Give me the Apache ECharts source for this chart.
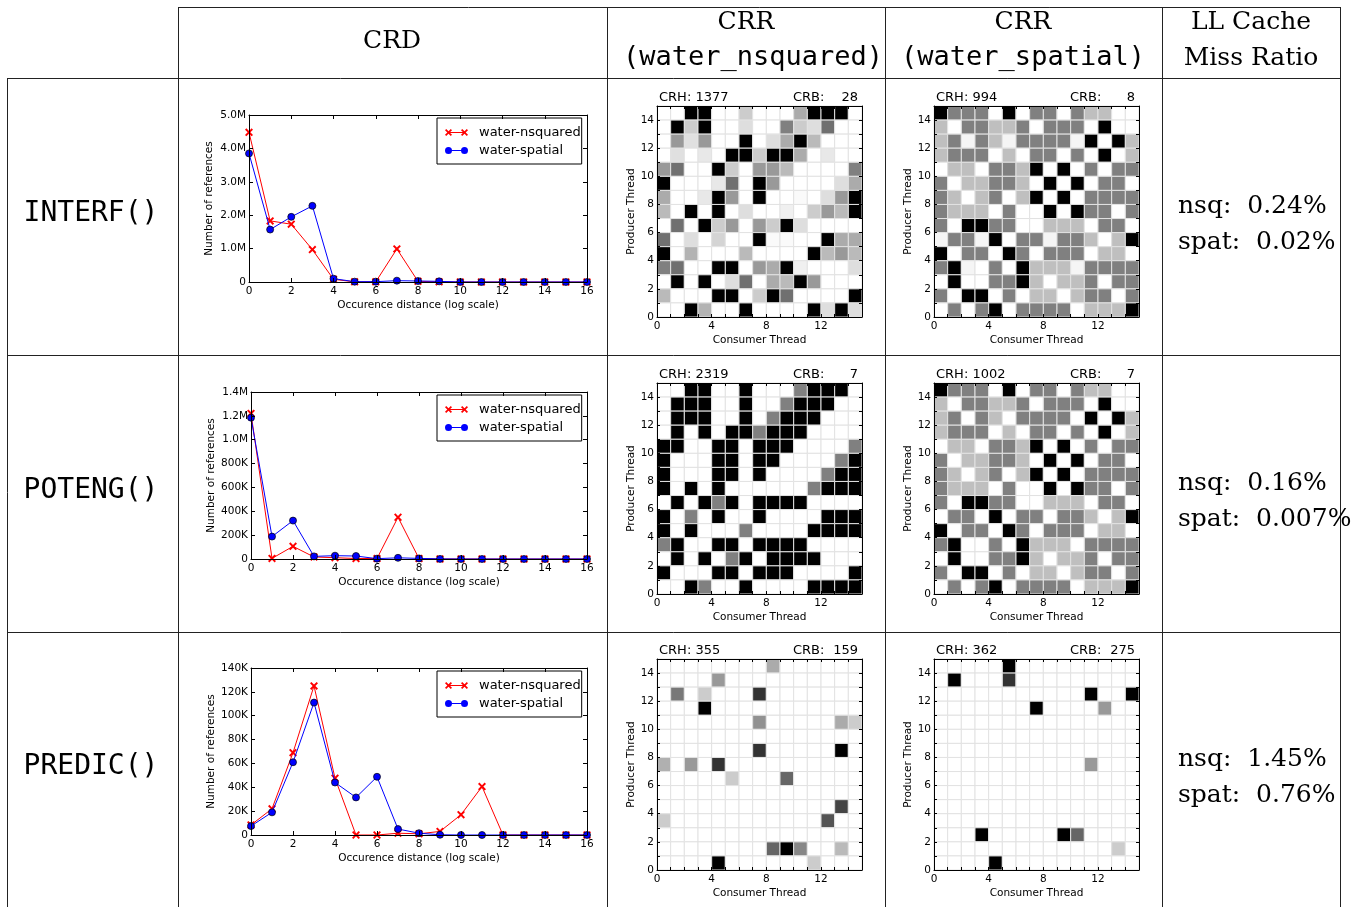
<!DOCTYPE html>
<html><head><meta charset="utf-8">
<script src="https://cdn.jsdelivr.net/npm/echarts@6/dist/echarts.min.js"></script>
<style>html,body{margin:0;padding:0;background:#fff}#c{width:1362px;height:907px}</style>
</head><body><div id="c"></div>
<script>
// ---------------- DATA ----------------
const funcNames = ['INTERF()', 'POTENG()', 'PREDIC()'];
const seriesNames = ['water-nsquared', 'water-spatial'];
const crdX = [0,1,2,3,4,5,6,7,8,9,10,11,12,13,14,15,16];
const interfNsq  = [4480000,1830000,1730000,970000,80000,5000,5000,990000,20000,5000,0,0,0,0,0,0,0];
const interfSpat = [3850000,1570000,1950000,2280000,100000,10000,10000,40000,30000,20000,0,0,0,0,0,0,0];
const potengNsq  = [1220000,5000,106000,17000,11000,4000,4000,350000,4000,0,0,0,0,0,0,0,0];
const potengSpat = [1185000,188000,322000,22000,28000,25000,3000,10000,5000,1000,0,0,0,0,0,0,0];
const predicNsq  = [8400,22000,69000,125000,47600,0,0,1500,1000,3000,17000,40600,0,0,0,0,0];
const predicSpat = [7500,19000,61000,111000,44000,31500,48800,5000,1500,200,0,0,0,0,0,0,0];
const crdYMax  = [5000000, 1400000, 140000];
const crdYStep = [1000000, 200000, 20000];
const crdXMax = 16, crdXStep = 2;
const threadMax = 15;

const crhValues = [[1377, 994], [2319, 1002], [355, 362]];
const crbValues = [[28, 8], [7, 7], [159, 275]];
const missNsq  = ['0.24%', '0.16%', '1.45%'];
const missSpat = ['0.02%', '0.007%', '0.76%'];

// CRR matrices: darkness 0..100, rows listed from producer 14 (top) down to 0
const crrInterfNsq = [
 [0,0,100,100,0,0,20,0,0,0,33,100,100,100,0],
 [0,100,20,100,0,0,13,0,0,50,20,13,56,0,0],
 [0,40,12,40,0,0,100,0,13,33,100,27,0,0,0],
 [0,12,0,9,0,100,100,20,100,100,33,0,9,0,0],
 [40,56,0,0,100,20,0,40,40,27,0,0,0,0,50],
 [100,0,0,0,9,56,0,100,40,0,0,0,0,13,33],
 [33,0,0,9,100,40,0,100,0,0,2,0,13,40,100],
 [27,0,100,0,100,0,13,0,0,6,0,20,40,27,100],
 [0,56,0,100,20,40,0,40,20,100,13,0,0,0,0],
 [56,0,13,0,17,0,0,100,2,2,0,0,100,33,33],
 [100,0,30,0,0,0,27,0,0,0,0,100,27,40,27],
 [50,56,0,0,100,100,0,40,33,100,6,0,0,0,13],
 [0,100,0,100,0,13,56,0,33,27,100,40,0,0,0],
 [27,0,0,0,100,100,0,20,100,56,0,0,0,0,100],
 [0,0,100,30,0,0,100,0,0,0,0,100,13,100,13]
];
const crrInterfSpat = [
 [100,50,50,50,0,100,0,50,50,0,50,25,25,0,0],
 [25,0,50,50,25,25,50,0,50,50,50,0,100,0,0],
 [25,50,4,50,25,4,50,50,50,50,4,100,0,100,25],
 [25,50,50,50,0,25,0,50,50,0,50,0,100,0,25],
 [0,25,25,0,50,50,25,100,0,100,0,50,0,50,50],
 [50,0,25,25,50,50,25,0,100,0,100,0,50,50,0],
 [50,25,0,25,50,0,25,100,0,100,0,50,50,50,50],
 [50,25,25,25,0,50,0,0,100,0,100,50,50,0,50],
 [50,0,100,100,50,50,0,0,25,25,25,0,50,50,0],
 [4,50,50,4,100,0,50,50,4,50,50,25,0,25,100],
 [100,0,50,50,0,100,50,0,50,50,50,0,25,25,0],
 [50,100,4,0,50,0,100,25,25,25,4,50,50,50,50],
 [0,100,0,0,50,50,100,25,0,25,25,50,0,50,50],
 [50,0,100,100,0,50,0,25,25,0,25,50,50,0,50],
 [0,50,0,50,100,0,50,50,50,50,0,25,25,25,100]
];
const crrPotengNsq = [
 [0,0,100,100,0,0,100,0,0,0,50,100,100,100,0],
 [0,100,100,100,0,0,100,0,0,50,100,100,100,0,0],
 [0,100,100,100,0,0,100,0,50,100,100,100,0,0,0],
 [0,100,0,100,0,100,100,50,100,100,100,0,0,0,0],
 [100,100,0,0,100,100,0,100,100,100,0,0,0,0,50],
 [100,0,0,0,100,100,0,100,100,0,0,0,0,50,100],
 [100,0,0,0,100,100,0,100,0,0,0,0,50,100,100],
 [100,0,100,0,100,0,0,0,0,0,0,50,100,100,100],
 [0,100,0,100,50,100,0,100,100,100,100,0,0,0,0],
 [100,0,50,0,100,0,0,100,0,0,0,0,100,100,100],
 [100,0,100,0,0,0,50,0,0,0,0,100,100,100,100],
 [50,100,0,0,100,100,0,100,100,100,100,0,0,0,0],
 [0,100,0,100,0,50,100,0,100,100,100,100,0,0,0],
 [100,0,0,0,100,100,0,100,100,100,0,0,0,0,100],
 [0,0,100,50,0,0,100,0,0,0,0,100,100,100,100]
];
const crrPotengSpat = [
 [100,50,50,50,0,100,0,50,50,0,50,25,25,0,0],
 [25,0,50,50,25,25,50,0,50,50,50,0,100,0,0],
 [25,50,0,50,25,0,50,50,50,50,0,100,0,100,25],
 [25,50,50,50,0,25,0,50,50,0,50,0,100,0,25],
 [0,25,25,0,50,50,25,100,0,100,0,50,0,50,50],
 [50,0,25,25,50,50,25,0,100,0,100,0,50,50,0],
 [50,25,0,25,50,0,25,100,0,100,0,50,50,50,50],
 [50,25,25,25,0,50,0,0,100,0,100,50,50,0,50],
 [50,0,100,100,50,50,0,0,25,25,25,0,50,50,0],
 [0,50,50,0,100,0,50,50,0,50,50,25,0,25,100],
 [100,0,50,50,0,100,50,0,50,50,50,0,25,25,0],
 [50,100,0,0,50,0,100,25,25,25,0,50,50,50,50],
 [0,100,0,0,50,50,100,25,0,25,25,50,0,50,50],
 [50,0,100,100,0,50,0,25,25,0,25,50,50,0,50],
 [0,50,0,50,100,0,50,50,50,50,0,25,25,25,100]
];
const crrPredicNsq = [
 [0,0,0,0,0,0,0,0,33,0,0,0,0,0,0],
 [0,0,0,0,40,0,0,0,0,0,0,0,0,0,0],
 [0,53,0,20,0,0,0,80,0,0,0,0,0,0,0],
 [0,0,0,100,0,0,0,0,0,0,0,0,0,0,0],
 [0,0,0,0,0,0,0,43,0,0,0,0,0,33,20],
 [0,0,0,0,0,0,0,0,0,0,0,0,0,0,0],
 [0,0,0,0,0,0,0,80,0,0,0,0,0,100,0],
 [31,0,40,0,80,0,0,0,0,0,0,0,0,0,0],
 [0,0,0,0,0,20,0,0,0,60,0,0,0,0,0],
 [0,0,0,0,0,0,0,0,0,0,0,0,0,0,0],
 [0,0,0,0,0,0,0,0,0,0,0,0,0,73,0],
 [20,0,0,0,0,0,0,0,0,0,0,0,67,0,0],
 [0,0,0,0,0,0,0,0,0,0,0,0,0,0,0],
 [0,0,0,0,0,0,0,0,60,100,47,0,0,27,0],
 [0,0,0,0,100,0,0,0,0,0,0,20,0,0,0]
];
const crrPredicSpat = [
 [0,0,0,0,0,100,0,0,0,0,0,0,0,0,0],
 [0,100,0,0,0,80,0,0,0,0,0,0,0,0,0],
 [0,0,0,0,0,0,0,0,0,0,0,100,0,0,100],
 [0,0,0,0,0,0,0,100,0,0,0,0,40,0,0],
 [0,0,0,0,0,0,0,0,0,0,0,0,0,0,0],
 [0,0,0,0,0,0,0,0,0,0,0,0,0,0,0],
 [0,0,0,0,0,0,0,0,0,0,0,0,0,0,0],
 [0,0,0,0,0,0,0,0,0,0,0,40,0,0,0],
 [0,0,0,0,0,0,0,0,0,0,0,0,0,0,0],
 [0,0,0,0,0,0,0,0,0,0,0,0,0,0,0],
 [0,0,0,0,0,0,0,0,0,0,0,0,0,0,0],
 [0,0,0,0,0,0,0,0,0,0,0,0,0,0,0],
 [0,0,0,100,0,0,0,0,0,100,60,0,0,0,0],
 [0,0,0,0,0,0,0,0,0,0,0,0,0,20,0],
 [0,0,0,0,100,0,0,0,0,0,0,0,0,0,0]
];

const crdData = [[interfNsq, interfSpat], [potengNsq, potengSpat], [predicNsq, predicSpat]];
const crrData = [[crrInterfNsq, crrInterfSpat], [crrPotengNsq, crrPotengSpat], [crrPredicNsq, crrPredicSpat]];

// ---------------- LAYOUT / STYLE ----------------
const SANS = 'DejaVu Sans', SERIF = 'DejaVu Serif', MONO = 'DejaVu Sans Mono';
const lineGridLeft = [249, 251, 251], lineGridTop = [115, 392, 668];
const heatLeft = [657, 934], heatTop = [106, 383, 659];

function xPoly(cx, cy, h, d) {
  const p = [[cx-h, cy-h+d],[cx-h+d, cy-h],[cx, cy-d],[cx+h-d, cy-h],[cx+h, cy-h+d],[cx+d, cy],
             [cx+h, cy+h-d],[cx+h-d, cy+h],[cx, cy+d],[cx-h+d, cy+h],[cx-h, cy+h-d],[cx-d, cy]];
  return 'M' + p.map(q => q[0].toFixed(2) + ',' + q[1].toFixed(2)).join('L') + 'Z';
}
function circ(cx, cy, r) {
  return `M${cx-r},${cy}A${r},${r} 0 1 1 ${cx+r},${cy}A${r},${r} 0 1 1 ${cx-r},${cy}Z`;
}
const X_SYMBOL = 'path://' + xPoly(3.5, 3.5, 3.5, 1.2);
const X_LEGEND = 'path://' + xPoly(3.5, 3.5, 3.5, 1.2) + 'M3.5,3L19.5,3L19.5,4L3.5,4Z' + xPoly(19.5, 3.5, 3.5, 1.2);
const O_LEGEND = 'path://' + circ(3.5, 3.5, 3.5) + 'M3.5,3L19.5,3L19.5,4L3.5,4Z' + circ(19.5, 3.5, 3.5);

function fmtCount(v) {
  if (v === 0) return '0';
  if (v >= 1e6) return (v / 1e6).toFixed(1) + 'M';
  return Math.round(v / 1e3) + 'K';
}

const labelStyle = { color: '#000', fontFamily: SANS, fontSize: 10.5 };
const nameStyle = { color: '#000', fontFamily: SANS, fontSize: 10.5 };

function axis(gi, pos, min, max, interval, opts) {
  const main = pos === 'bottom' || pos === 'left';
  return Object.assign({
    type: 'value', gridIndex: gi, position: pos, min, max, interval, z: 5,
    axisLine: { show: true, onZero: false, lineStyle: { color: '#000', width: 1 } },
    axisTick: { show: true, inside: true, length: 4, lineStyle: { color: '#000', width: 1 } },
    axisLabel: { show: main, margin: 4, ...labelStyle },
    splitLine: { show: false }
  }, opts || {});
}

const grids = [], xAxes = [], yAxes = [], series = [], legends = [], elements = [];

// CRD line charts
for (let r = 0; r < 3; r++) {
  const gi = grids.length;
  grids.push({ left: lineGridLeft[r], top: lineGridTop[r], width: 587 - lineGridLeft[r], height: 167 });
  xAxes.push(axis(gi, 'bottom', 0, crdXMax, crdXStep, {
    name: 'Occurence distance (log scale)', nameLocation: 'middle', nameGap: 18, nameTextStyle: nameStyle }));
  xAxes.push(axis(gi, 'top', 0, crdXMax, crdXStep));
  yAxes.push(axis(gi, 'left', 0, crdYMax[r], crdYStep[r], {
    axisLabel: { show: true, margin: 3, formatter: fmtCount, ...labelStyle },
    name: 'Number of references', nameLocation: 'middle', nameGap: 34, nameRotate: 90, nameTextStyle: nameStyle }));
  yAxes.push(axis(gi, 'right', 0, crdYMax[r], crdYStep[r]));
  const ai = xAxes.length - 2;
  series.push({
    type: 'line', name: seriesNames[0], xAxisIndex: ai, yAxisIndex: ai, clip: false,
    data: crdX.map((x, i) => [x, crdData[r][0][i]]),
    symbol: X_SYMBOL, symbolSize: 8, lineStyle: { color: '#ff0000', width: 1 },
    itemStyle: { color: '#ff0000' }, silent: true, z: 3
  });
  series.push({
    type: 'line', name: seriesNames[1], xAxisIndex: ai, yAxisIndex: ai, clip: false,
    data: crdX.map((x, i) => [x, crdData[r][1][i]]),
    symbol: 'circle', symbolSize: 7, lineStyle: { color: '#0000ff', width: 1 },
    itemStyle: { color: '#0000ff', borderColor: '#000', borderWidth: 0.7 }, silent: true, z: 4
  });
  legends.push({
    orient: 'vertical', left: 437, top: lineGridTop[r] + 3, selectedMode: false,
    data: [
      { name: seriesNames[0], icon: X_LEGEND, itemStyle: { color: '#ff0000', borderWidth: 0 } },
      { name: seriesNames[1], icon: O_LEGEND, itemStyle: { color: '#0000ff', borderWidth: 0 } }
    ],
    itemWidth: 23, itemHeight: 7, itemGap: 5,
    textStyle: { color: '#000', fontFamily: SANS, fontSize: 13, padding: [0, 0, 0, 6] },
    borderColor: '#000', borderWidth: 1, borderRadius: 0, padding: [8, 1, 7, 8], backgroundColor: '#fff'
  });
}

// CRR heatmaps
function renderCell(params, api) {
  const x = api.value(0), y = api.value(1), v = api.value(2);
  const a = api.coord([x, y + 1]), b = api.coord([x + 1, y]);
  const g = Math.round(255 * (1 - v / 100));
  return { type: 'rect', shape: { x: a[0], y: a[1], width: b[0] - a[0], height: b[1] - a[1] },
           style: { fill: `rgb(${g},${g},${g})`, stroke: '#e2e2e2', lineWidth: 1 } };
}
for (let r = 0; r < 3; r++) {
  for (let c = 0; c < 2; c++) {
    const gi = grids.length;
    grids.push({ left: heatLeft[c], top: heatTop[r], width: 205, height: 211 });
    xAxes.push(axis(gi, 'bottom', 0, threadMax, 1, {
      axisTick: { show: true, inside: true, length: 3, lineStyle: { color: '#000' } },
      axisLabel: { show: true, margin: 4, formatter: v => (v % 4 === 0 ? String(v) : ''), ...labelStyle },
      name: 'Consumer Thread', nameLocation: 'middle', nameGap: 18, nameTextStyle: nameStyle }));
    xAxes.push(axis(gi, 'top', 0, threadMax, 1, { axisTick: { show: true, inside: true, length: 3, lineStyle: { color: '#000' } } }));
    yAxes.push(axis(gi, 'left', 0, threadMax, 1, {
      axisTick: { show: true, inside: true, length: 3, lineStyle: { color: '#000' } },
      axisLabel: { show: true, margin: 3, formatter: v => (v % 2 === 0 && v < threadMax ? String(v) : ''), ...labelStyle },
      name: 'Producer Thread', nameLocation: 'middle', nameGap: 20, nameRotate: 90, nameTextStyle: nameStyle }));
    yAxes.push(axis(gi, 'right', 0, threadMax, 1, { axisTick: { show: true, inside: true, length: 3, lineStyle: { color: '#000' } } }));
    const ai = xAxes.length - 2;
    const m = crrData[r][c];
    const cells = [];
    m.forEach((row, i) => row.forEach((v, j) => cells.push([j, m.length - 1 - i, v])));
    series.push({ type: 'custom', xAxisIndex: ai, yAxisIndex: ai, data: cells, renderItem: renderCell,
                  encode: { x: 0, y: 1 }, silent: true, clip: false, z: 2 });
    // titles above each matrix
    elements.push({ type: 'text', x: heatLeft[c] + 2, y: heatTop[r] - 8, silent: true,
      style: { text: 'CRH: ' + crhValues[r][c], fill: '#000', font: `13px "${SANS}"`,
               align: 'left', verticalAlign: 'middle', textAlign: 'left', textVerticalAlign: 'middle' } });
    elements.push({ type: 'text', x: heatLeft[c] + 136, y: heatTop[r] - 8, silent: true,
      style: { text: 'CRB:', fill: '#000', font: `13px "${SANS}"`,
               align: 'left', verticalAlign: 'middle', textAlign: 'left', textVerticalAlign: 'middle' } });
    elements.push({ type: 'text', x: heatLeft[c] + 201, y: heatTop[r] - 8, silent: true,
      style: { text: String(crbValues[r][c]), fill: '#000', font: `13px "${SANS}"`,
               align: 'right', verticalAlign: 'middle', textAlign: 'right', textVerticalAlign: 'middle' } });
  }
}

// ---------------- TABLE ----------------
function hline(x1, x2, y, w) {
  elements.push({ type: 'line', silent: true, shape: { x1, y1: y, x2, y2: y }, style: { stroke: '#222', lineWidth: w || 1 } });
}
function vline(x, y1, y2) {
  elements.push({ type: 'line', silent: true, shape: { x1: x, y1, x2: x, y2 }, style: { stroke: '#222', lineWidth: 1 } });
}
hline(178, 1340.5, 7.5);
hline(7, 1340.5, 78.5, 1);
hline(7, 1340.5, 355.5);
hline(7, 1340.5, 632.5);
vline(7.5, 78, 907);
[178.5, 607.5, 885.5, 1162.5, 1340.5].forEach(x => vline(x, 7, 907));

function txt(text, x, y, font, align) {
  elements.push({ type: 'text', x, y, silent: true,
    style: { text, fill: '#000', font, align: align || 'center', verticalAlign: 'middle',
             textAlign: align || 'center', textVerticalAlign: 'middle' } });
}
const serifFont = `25px "${SERIF}"`, monoFont = `27px "${MONO}"`;
txt('CRD', 392, 41, serifFont);
txt('CRR', 746, 22, serifFont);
txt('(water_nsquared)', 623, 58, monoFont, 'left');
txt('CRR', 1023, 22, serifFont);
txt('(water_spatial)', 1023, 58, monoFont);
txt('LL Cache', 1251, 22, serifFont);
txt('Miss Ratio', 1251, 58, serifFont);
const rowMid = [214, 491, 767];
for (let r = 0; r < 3; r++) {
  txt(funcNames[r], 91, rowMid[r], `28px "${MONO}"`);
  txt('nsq:  ' + missNsq[r], 1178, rowMid[r] - 8, serifFont, 'left');
  txt('spat:  ' + missSpat[r], 1178, rowMid[r] + 28, serifFont, 'left');
}

const chart = echarts.init(document.getElementById('c'));
chart.setOption({
  animation: false,
  backgroundColor: '#fff',
  textStyle: { fontFamily: SANS },
  grid: grids, xAxis: xAxes, yAxis: yAxes, series, legend: legends,
  graphic: { elements }
});
</script></body></html>
